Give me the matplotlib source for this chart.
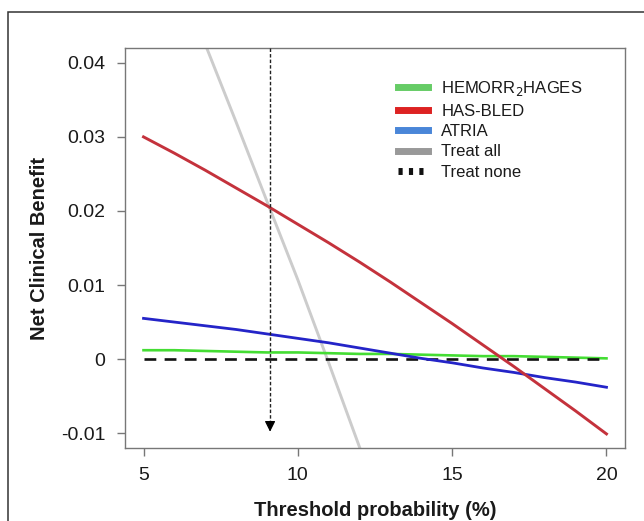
import matplotlib
matplotlib.use("Agg")
import matplotlib.pyplot as plt
import matplotlib.patches as patches
from matplotlib.lines import Line2D

plt.rcParams['font.family'] = ['Liberation Sans', 'DejaVu Sans']
plt.rcParams['lines.scale_dashes'] = False

# threshold probability (%)
threshold = [5, 6, 7, 8, 9, 10, 11, 12, 13, 14, 15, 16, 17, 18, 19, 20]
hemorr2hages = [0.0012, 0.0012, 0.0011, 0.0010, 0.0009, 0.0009, 0.0008, 0.0007,
                0.0007, 0.0006, 0.0005, 0.0004, 0.0004, 0.0003, 0.0002, 0.0001]
has_bled = [0.0300, 0.0278, 0.0255, 0.0231, 0.0207, 0.0182, 0.0157, 0.0131,
            0.0104, 0.0076, 0.0048, 0.0019, -0.0010, -0.0040, -0.0070, -0.0101]
atria = [0.0055, 0.0050, 0.0045, 0.0040, 0.0034, 0.0028, 0.0022, 0.0015,
         0.0008, 0.0001, -0.0005, -0.0012, -0.0018, -0.0025, -0.0031, -0.0038]
treat_none = [0.0] * len(threshold)

treat_all_x = [6, 7, 8, 9, 10, 11, 12, 13]
treat_all = [0.053, 0.0425, 0.032, 0.0213, 0.0107, -0.0005, -0.0119, -0.0235]

marker_x = 9.1
marker_top = 0.042
marker_tip = -0.0098

xticks = [5, 10, 15, 20]
yticks = [-0.01, 0, 0.01, 0.02, 0.03, 0.04]
ytick_labels = ['-0.01', '0', '0.01', '0.02', '0.03', '0.04']

W, H = 644, 521
fig = plt.figure(figsize=(W / 100, H / 100), dpi=100)
ax = fig.add_axes([125 / W, (H - 448) / H, 500 / W, 400 / H])

# outer frame
fig.patches.append(patches.Rectangle((8 / W, -0.2), 1.2, (H - 12) / H + 0.2,
                                     transform=fig.transFigure, fill=False,
                                     edgecolor='#333333', linewidth=1.1))

ax.plot(treat_all_x, treat_all, color='#cccccc', lw=2.1, zorder=1)
ax.plot(threshold, hemorr2hages, color='#44dd33', lw=1.9, zorder=2)
ax.plot(threshold, treat_none, color='#111111', lw=1.9, dashes=(8.5, 6), zorder=3)
ax.plot(threshold, atria, color='#2424c8', lw=2.0, zorder=4)
ax.plot(threshold, has_bled, color='#c4323c', lw=2.1, zorder=5)

ax.plot([marker_x, marker_x], [marker_top, marker_tip + 0.0012], color='#222222',
        lw=1.0, dashes=(2.5, 1.5), zorder=6)
ax.annotate('', xy=(marker_x, marker_tip), xytext=(marker_x, marker_tip + 0.0014),
            arrowprops=dict(arrowstyle='-|>', color='black', lw=0.8,
                            mutation_scale=16, shrinkA=0, shrinkB=0), zorder=7)

ax.set_xlim(4.4, 20.6)
ax.set_ylim(-0.012, 0.042)
ax.set_xticks(xticks)
ax.set_yticks(yticks)
ax.set_yticklabels(ytick_labels)

for s in ax.spines.values():
    s.set_color('#777777')
    s.set_linewidth(1.0)
ax.tick_params(axis='both', direction='out', length=6, width=1.0, color='#777777',
               labelsize=14, labelcolor='#1a1a1a')
ax.tick_params(axis='y', pad=8)
ax.tick_params(axis='x', pad=8)

ax.set_xlabel('Threshold probability (%)', fontsize=14.5, fontweight='bold',
              color='#1a1a1a', labelpad=12)
ax.set_ylabel('Net Clinical Benefit', fontsize=14.5, fontweight='bold',
              color='#1a1a1a', labelpad=9)

handles = [
    Line2D([], [], color='#66cc66', lw=5),
    Line2D([], [], color='#dd2222', lw=5),
    Line2D([], [], color='#4a86d8', lw=5),
    Line2D([], [], color='#999999', lw=5),
    Line2D([], [], color='#111111', lw=5, dashes=(3, 4.5)),
]
labels = ['HEMORR$_2$HAGES', 'HAS-BLED', 'ATRIA', 'Treat all', 'Treat none']
leg = ax.legend(handles, labels, loc='upper left', bbox_to_anchor=(398 / W, 1 - 79 / H),
                bbox_transform=fig.transFigure, frameon=False, fontsize=12,
                handlelength=1.8, handletextpad=0.8, labelspacing=0.33, borderpad=0,
                borderaxespad=0)
for t in leg.get_texts():
    t.set_color('#1a1a1a')

fig.savefig('out.png', dpi=100)
